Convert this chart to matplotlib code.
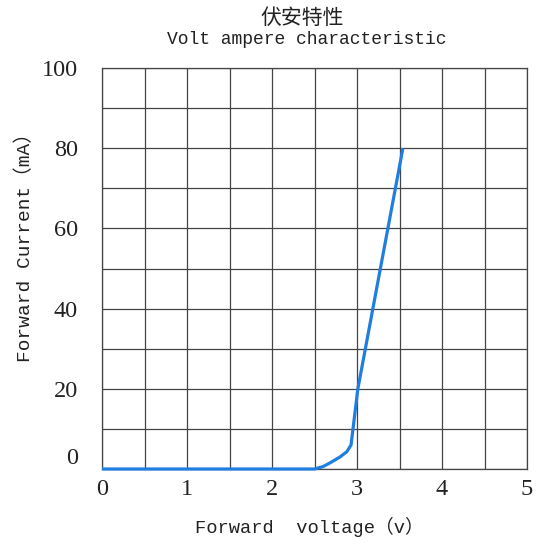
import numpy as np
import matplotlib.pyplot as plt
from matplotlib.ticker import MultipleLocator

# Data (voltage in V, current in mA)
voltage = [0.0, 2.5, 2.6, 2.68, 2.8, 2.88, 2.93, 3.01, 3.54]
current = [0.0, 0.0, 0.6, 1.5, 3.0, 4.3, 6.0, 20.0, 80.0]

x_ticks = [0, 1, 2, 3, 4, 5]
y_ticks = [0, 20, 40, 60, 80, 100]

mono = ['Liberation Mono', 'Noto Sans CJK SC']

fig = plt.figure(figsize=(5.42, 5.45), dpi=100)
ax = fig.add_axes([102 / 542, 1 - 469 / 545, 425 / 542, 401 / 545])

ax.plot(voltage, current, color='#1f7ee0', linewidth=2.3, solid_capstyle='butt', zorder=3, clip_on=False)

ax.set_xlim(0, 5)
ax.set_ylim(0, 100)
ax.set_xticks(x_ticks)
ax.set_yticks(y_ticks)
ax.xaxis.set_minor_locator(MultipleLocator(0.5))
ax.yaxis.set_minor_locator(MultipleLocator(10))
ax.grid(True, which='both', color='#444444', linewidth=0.9)
ax.set_axisbelow(True)
for s in ax.spines.values():
    s.set_color('#444444')
    s.set_linewidth(0.9)

ax.tick_params(which='both', length=0)
ax.tick_params(axis='x', pad=7)
ax.tick_params(axis='y', pad=17.5)
for lab in ax.get_xticklabels() + ax.get_yticklabels():
    lab.set_fontfamily('Liberation Serif')
    lab.set_fontsize(17.5)
    lab.set_color('#222222')
ax.get_yticklabels()[0].set_va('bottom')

fig.text(302 / 542, 1 - 18 / 545, '伏安特性', family=['Noto Sans CJK SC'], fontsize=15,
         ha='center', va='center', color='#222222')
fig.text(307 / 542, 1 - 40 / 545, 'Volt ampere characteristic', family=mono, fontsize=13,
         ha='center', va='center', color='#222222')
fig.text(309 / 542, 1 - 527 / 545, 'Forward  voltage（v）', family=mono, fontsize=13.5,
         ha='center', va='center', color='#222222')
fig.text(25 / 542, 1 - 243 / 545, 'Forward Current（mA）', family=mono, fontsize=14,
         ha='center', va='center', rotation=90, color='#222222')

fig.savefig('out.png', dpi=100)
